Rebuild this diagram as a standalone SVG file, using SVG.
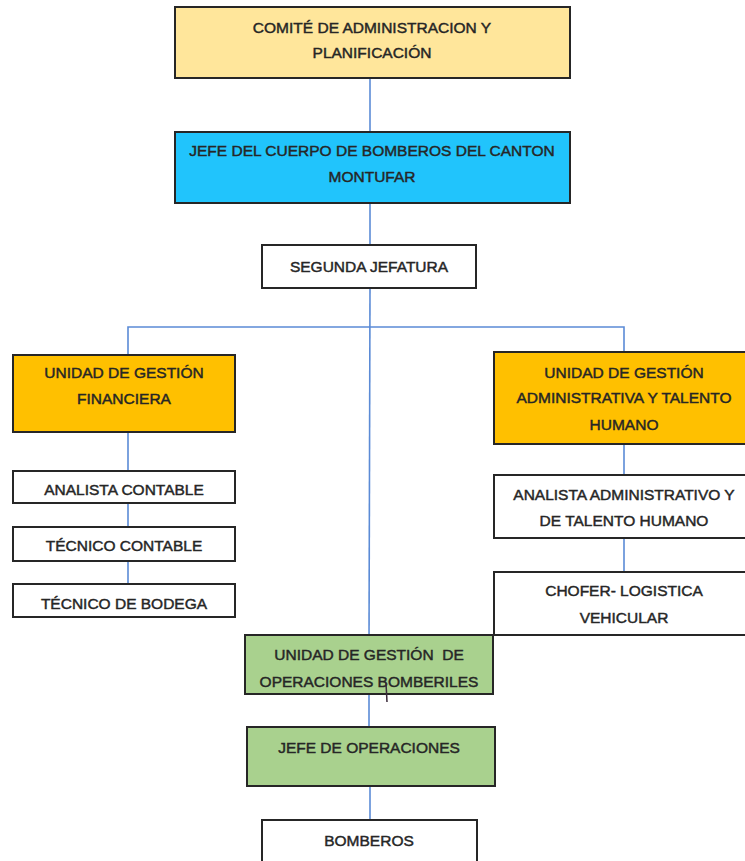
<svg xmlns="http://www.w3.org/2000/svg" width="745" height="861" viewBox="0 0 745 861">
<style>
.box{stroke:#262626;stroke-width:2}
.w{fill:#ffffff}
.y1{fill:#FFE69B}
.b{fill:#21C4FC}
.o{fill:#FFC000}
.g{fill:#A9D18E}
.c{stroke:#5B8BD6;stroke-width:1.6;fill:none}
text{font-family:"Liberation Sans",Arial,sans-serif;font-size:15.5px;fill:#262626;text-anchor:middle;stroke:#262626;stroke-width:0.45}
</style>
<rect width="745" height="861" fill="#ffffff"/>
<g id="connectors">
<line class="c" x1="370" y1="78" x2="370" y2="132"/>
<line class="c" x1="370" y1="203" x2="370" y2="245"/>
<line class="c" x1="370" y1="288" x2="369" y2="644"/>
<polyline class="c" points="128,355 128,327 624,327 624,352"/>
<line class="c" x1="128" y1="432" x2="128" y2="471"/>
<line class="c" x1="128" y1="503" x2="128" y2="527"/>
<line class="c" x1="128" y1="561" x2="128" y2="584"/>
<line class="c" x1="624" y1="444" x2="624" y2="475"/>
<line class="c" x1="624" y1="538" x2="624" y2="572"/>
<line class="c" x1="369" y1="694" x2="369" y2="727"/>
<line class="c" x1="370" y1="786" x2="370" y2="820"/>
</g>
<g id="comite">
<rect class="box y1" x="175" y="7" width="395" height="71"/>
<text x="372" y="33">COMITÉ DE ADMINISTRACION Y</text>
<text x="372" y="58">PLANIFICACIÓN</text>
</g>
<g id="jefe-cuerpo">
<rect class="box b" x="175" y="132" width="395" height="71"/>
<text x="372" y="156">JEFE DEL CUERPO DE BOMBEROS DEL CANTON</text>
<text x="372" y="182">MONTUFAR</text>
</g>
<g id="segunda">
<rect class="box w" x="262" y="245" width="214" height="43"/>
<text x="369" y="272">SEGUNDA JEFATURA</text>
</g>
<g id="financiera">
<rect class="box o" x="13" y="355" width="222" height="77"/>
<text x="124" y="378">UNIDAD DE GESTIÓN</text>
<text x="124" y="404">FINANCIERA</text>
</g>
<g id="administrativa">
<rect class="box o" x="494" y="352" width="252" height="92"/>
<text x="624" y="378">UNIDAD DE GESTIÓN</text>
<text x="624" y="403">ADMINISTRATIVA Y TALENTO</text>
<text x="624" y="430">HUMANO</text>
</g>
<g id="analista-contable">
<rect class="box w" x="13" y="471" width="222" height="32"/>
<text x="124" y="495">ANALISTA CONTABLE</text>
</g>
<g id="tecnico-contable">
<rect class="box w" x="13" y="527" width="222" height="34"/>
<text x="124" y="551">TÉCNICO CONTABLE</text>
</g>
<g id="tecnico-bodega">
<rect class="box w" x="13" y="584" width="222" height="33"/>
<text x="124" y="609">TÉCNICO DE BODEGA</text>
</g>
<g id="analista-admin">
<rect class="box w" x="494" y="475" width="252" height="63"/>
<text x="624" y="500">ANALISTA ADMINISTRATIVO Y</text>
<text x="624" y="526">DE TALENTO HUMANO</text>
</g>
<g id="chofer">
<rect class="box w" x="494" y="572" width="252" height="63"/>
<text x="624" y="596">CHOFER- LOGISTICA</text>
<text x="624" y="623">VEHICULAR</text>
</g>
<g id="operaciones">
<rect class="box g" x="245" y="635" width="248" height="59"/>
<text x="369" y="660">UNIDAD DE GESTIÓN&#160; DE</text>
<text x="369" y="687">OPERACIONES BOMBERILES</text>
<line x1="386" y1="683" x2="387" y2="702" stroke="#3a2a3a" stroke-width="1.5"/>
</g>
<g id="jefe-operaciones">
<rect class="box g" x="247" y="727" width="248" height="59"/>
<text x="369" y="753">JEFE DE OPERACIONES</text>
</g>
<g id="bomberos">
<rect class="box w" x="262" y="820" width="215" height="50"/>
<text x="369" y="846">BOMBEROS</text>
</g>
</svg>
